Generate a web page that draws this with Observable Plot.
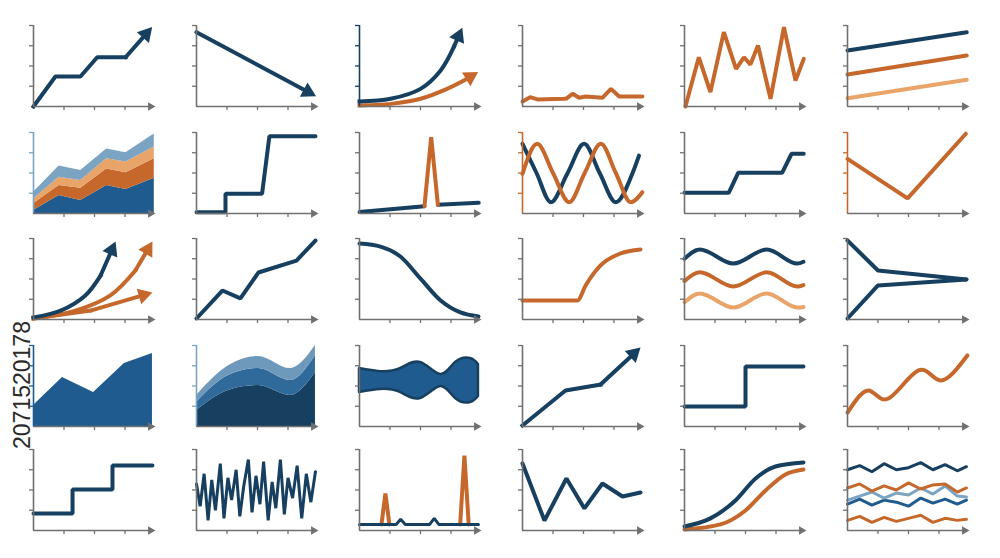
<!DOCTYPE html>
<html><head><meta charset="utf-8">
<script src="https://cdn.jsdelivr.net/npm/d3@7"></script>
<script src="https://cdn.jsdelivr.net/npm/@observablehq/plot@0.6"></script>
<style>
body{margin:0;background:#fff;}
#wrap{position:relative;width:1000px;height:558px;overflow:hidden;background:#fff;font-family:"Liberation Sans",Arial,sans-serif;}
.panel{position:absolute;}
#stockid{position:absolute;left:22px;top:385px;transform:translate(-50%,-50%) rotate(-90deg);font-size:23px;color:#2b2b2b;white-space:nowrap;}
</style></head><body><div id="wrap"><div id="stockid">2071520178</div></div>
<script>
// ---------- colours ----------
const NAVY="#173f5f", ORANGE="#c6682b", LORANGE="#e9a46a", STEEL="#7ba3c2", MBLUE="#1f5b8e", GREY="#707070";
// ---------- axis ticks (unlabelled) ----------
const xTicks=[1,2,3];
const yTicks=[1,2,3,4];
// ---------- data: row 1 ----------
const r1c1X=[0,0.72,1.54,2.09,3.02,3.89], r1c1Y=[0,1.48,1.48,2.43,2.43,3.92];
const r1c2X=[0,3.92], r1c2Y=[3.67,0.51];
const r1c3aX=[0,1.02,2.0,2.66,3.09,3.37], r1c3aY=[0.25,0.38,0.87,1.78,2.93,3.89];
const r1c3bX=[0,1.02,2.0,2.87,3.53,3.89], r1c3bY=[0.05,0.13,0.38,0.87,1.37,1.7];
const r1c4X=[0,0.25,0.49,1.36,1.45,1.64,1.86,2.08,2.62,2.9,3.17,3.93], r1c4Y=[0.25,0.46,0.35,0.38,0.4,0.63,0.43,0.49,0.43,0.87,0.49,0.49];
const r1c5X=[0.03,0.47,0.85,1.29,1.69,1.95,2.16,2.41,2.82,3.26,3.64,3.91], r1c5Y=[0,2.43,0.71,3.67,1.86,2.43,2.07,3.01,0.38,3.92,1.28,2.35];
const r1c6X=[0,3.91], r1c6A=[2.77,3.67], r1c6B=[1.58,2.52], r1c6C=[0.41,1.32];
// ---------- data: row 2 ----------
const r2c1X=[0,0.84,1.55,2.4,3.03,3.96];
const r2c1L1=[0.15,0.89,0.64,1.38,1.19,1.74];
const r2c1L2=[0.33,0.49,0.61,0.82,0.82,0.96];
const r2c1L3=[0.24,0.41,0.38,0.5,0.53,0.58];
const r2c1L4=[0.33,0.55,0.49,0.49,0.46,0.65];
const r2c2X=[0,0.95,0.95,2.15,2.39,3.9], r2c2Y=[0.06,0.06,0.97,0.97,3.82,3.82];
const r2c3aX=[0,2.13], r2c3aY=[0.07,0.36];
const r2c3bX=[2.57,3.91], r2c3bY=[0.43,0.53];
const r2c3sX=[2.13,2.35,2.57], r2c3sY=[0.36,3.77,0.43];
const r2c4aX=[0,0.46,0.93,1.48,2.02,2.53,3.06,3.61,3.82], r2c4aY=[3.44,2.0,0.56,2.0,3.44,2.0,0.56,2.0,2.86];
const r2c4bX=[0,0.48,1.0,1.53,2.04,2.57,3.06,3.55,3.93], r2c4bY=[1.96,3.44,2.0,0.56,2.0,3.44,2.0,0.56,1.05];
const r2c5X=[0,1.45,1.76,3.2,3.51,3.91], r2c5Y=[1.02,1.02,2.01,2.01,2.95,2.95];
const r2c6X=[0,1.97,3.88], r2c6Y=[2.7,0.75,3.94];
// ---------- data: row 3 ----------
const r3c1aX=[0,0.89,1.7,2.2,2.69], r3c1aY=[0.1,0.44,1.19,2.17,3.85];
const r3c1bX=[0,1.38,2.52,3.34,3.9], r3c1bY=[0.05,0.44,1.19,2.42,3.85];
const r3c1cX=[0,1.87,3.9], r3c1cY=[0.05,0.44,1.33];
const r3c2X=[0,0.85,1.44,2.03,3.28,3.9], r3c2Y=[0.05,1.43,1.04,2.32,2.91,3.9];
const r3c3X=[0,0.69,1.34,2.0,2.66,3.31,3.9], r3c3Y=[3.75,3.6,3.11,2.02,0.94,0.35,0.15];
const r3c4X=[0,1.8,2.07,2.56,3.21,3.87], r3c4Y=[0.94,0.94,1.68,2.67,3.26,3.46];
const r3c5X=[0,0.5,1.6,2.7,3.7,3.9];
const r3c5A=[3.0,3.46,2.76,3.46,2.76,2.85];
const r3c5B=[1.9,2.33,1.63,2.33,1.63,1.7];
const r3c5C=[0.85,1.29,0.59,1.29,0.59,0.62];
const r3c6aX=[0,1.0,3.9], r3c6aY=[3.9,2.42,1.98];
const r3c6bX=[0,1.0,3.9], r3c6bY=[0.05,1.68,1.98];
// ---------- data: row 4 ----------
const r4c1X=[0,0.95,1.97,2.98,3.9], r4c1Y=[1.04,2.42,1.68,3.11,3.6];
const r4c2X=[0,1.05,2.03,3.08,3.9];
const r4c2L1=[0.79,1.78,2.02,1.53,2.67];
const r4c2L2=[0.4,0.74,0.84,0.74,0.84];
const r4c2L3=[0.34,0.48,0.6,0.59,0.49];
const r4c3X=[0,0.69,1.34,2.0,2.66,3.15,3.64,3.9];
const r4c3Lo=[1.68,1.83,1.68,1.38,1.97,1.38,1.18,1.48];
const r4c3Hi=[2.86,2.71,2.86,3.16,2.57,3.16,3.36,3.06];
const r4c4X=[0,1.41,2.56,3.87], r4c4Y=[0.05,1.78,2.07,3.9];
const r4c5X=[0,2.0,2.0,3.9], r4c5Y=[0.99,0.99,2.96,2.96];
const r4c6X=[0,0.69,1.34,2.33,3.05,3.93], r4c6Y=[0.69,1.78,1.38,2.77,2.27,3.51];
// ---------- data: row 5 ----------
const r5c1X=[0,1.28,1.28,2.59,2.59,3.9], r5c1Y=[0.84,0.84,2.02,2.02,3.21,3.21];
const r5c2X=[0,0.12,0.25,0.38,0.5,0.62,0.78,0.9,1.03,1.15,1.3,1.42,1.55,1.7,1.82,1.95,2.08,2.2,2.35,2.48,2.6,2.75,2.88,3.0,3.15,3.3,3.45,3.6,3.75,3.9];
const r5c2Y=[2.3,1.2,2.8,0.5,2.5,1.0,3.3,0.6,2.6,1.5,3.0,0.7,2.2,3.5,0.9,2.7,1.3,3.4,0.5,2.4,1.1,3.5,0.8,2.6,1.6,3.2,0.6,2.8,1.4,2.9];
const r5c3X=[0,1.2,1.35,1.5,2.3,2.45,2.6,3.9], r5c3Y=[0.3,0.3,0.55,0.3,0.3,0.6,0.3,0.3];
const r5c3s1X=[0.72,0.85,0.98], r5c3s1Y=[0.3,1.83,0.3];
const r5c3s2X=[3.3,3.44,3.58], r5c3s2Y=[0.3,3.7,0.3];
const r5c4X=[0,0.72,1.44,2.03,2.62,3.28,3.87], r5c4Y=[3.31,0.49,2.57,1.09,2.32,1.68,1.88];
const r5c5aX=[0,0.85,1.67,2.33,2.98,3.9], r5c5aY=[0.2,0.6,1.48,2.57,3.16,3.36];
const r5c5bX=[0,1.18,2.0,2.66,3.31,3.9], r5c5bY=[0.05,0.3,0.99,1.98,2.77,3.01];
const r5c6X=[0,0.4,0.8,1.2,1.6,2.0,2.4,2.8,3.2,3.6,3.9];
const r5c6A=[3.0,3.2,2.9,3.3,3.0,3.1,3.35,3.0,3.25,2.95,3.15];
const r5c6B=[2.1,2.3,1.95,2.2,2.0,2.35,2.05,2.25,2.3,1.9,2.1];
const r5c6C=[1.5,1.7,1.9,1.6,1.85,1.75,2.1,1.8,2.2,1.7,1.65];
const r5c6D=[1.3,1.55,1.25,1.5,1.4,1.2,1.6,1.35,1.55,1.3,1.5];
const r5c6E=[0.5,0.7,0.4,0.65,0.45,0.6,0.75,0.4,0.6,0.5,0.55];

// ---------- layout ----------
const colX=[33,196,359,522,684,847];
const rowTop=[25,132,238,345,449];
const PW=122, PH=81, ML=14, MR=10, MT=10, MB=10;
const SW=4;
const KX=PW/4, KY=PH/4; // pixels per data unit (domain [0,4])

const pts=(xs,ys)=>xs.map((x,i)=>({x,y:ys[i]}));
function L(xs,ys,color,extra={}){
  return Plot.line(pts(xs,ys),{x:"x",y:"y",stroke:color,strokeWidth:SW,strokeLinejoin:"miter",...extra});
}
// filled triangular arrow head + shaft for the segment (x1,y1)->(x2,y2)
function head(x1,y1,x2,y2,color,sw,r){
  const th=Math.atan2((x2-x1)*KX,(y2-y1)*KY);
  const tip=2*Math.sqrt(Math.PI*r*r/(3*Math.sqrt(3)));
  return [
    Plot.arrow([{x1,y1,x2,y2}],{x1:"x1",y1:"y1",x2:"x2",y2:"y2",stroke:color,strokeWidth:sw,headLength:0,insetEnd:tip*0.9}),
    Plot.dot([{x:x2,y:y2}],{x:"x",y:"y",symbol:"triangle",r,fill:color,stroke:"none",rotate:th*180/Math.PI,dx:-tip*Math.sin(th),dy:tip*Math.cos(th)})
  ];
}
function A(xs,ys,color,extra={}){ // polyline ending with an arrow
  const n=xs.length;
  const marks=[];
  if(n>2) marks.push(Plot.line(pts(xs.slice(0,n-1),ys.slice(0,n-1)),{x:"x",y:"y",stroke:color,strokeWidth:SW,strokeLinejoin:"miter",strokeLinecap:"square",...extra}));
  marks.push(...head(xs[n-2],ys[n-2],xs[n-1],ys[n-1],color,SW,6));
  return marks;
}
function stack(xs,layers,colors,curve="linear"){
  const data=[];
  layers.forEach((vals,k)=>vals.forEach((v,i)=>data.push({x:xs[i],v,k,c:colors[k]})));
  return Plot.areaY(data,{x:"x",y:"v",z:"k",fill:"c",curve});
}
function panel(r,c,marks,axisColor=GREY){
  const chart=Plot.plot({
    width:PW+ML+MR,height:PH+MT+MB,marginLeft:ML,marginRight:MR,marginTop:MT,marginBottom:MB,
    x:{domain:[0,4]},y:{domain:[0,4]},color:{type:"identity"},
    style:{background:"transparent",overflow:"visible"},
    marks:[
      ...marks.flat(),
      Plot.axisY({ticks:yTicks,tickSize:4,tickFormat:()=>"",stroke:axisColor,strokeWidth:1.3,label:null}),
      Plot.axisX({ticks:xTicks,tickSize:4,tickFormat:()=>"",stroke:GREY,strokeWidth:1.3,label:null}),
      Plot.ruleX([0],{stroke:axisColor,strokeWidth:1.6}),
      ...head(0,0,4,0,GREY,1.3,3.2)
    ]
  });
  chart.classList.add("panel");
  chart.style.left=(colX[c]-ML)+"px";
  chart.style.top=(rowTop[r]-MT)+"px";
  document.getElementById("wrap").appendChild(chart);
}

// row 1
panel(0,0,[A(r1c1X,r1c1Y,NAVY)]);
panel(0,1,[A(r1c2X,r1c2Y,NAVY)]);
panel(0,2,[A(r1c3bX,r1c3bY,ORANGE,{curve:"catmull-rom"}),A(r1c3aX,r1c3aY,NAVY,{curve:"catmull-rom"})],NAVY);
panel(0,3,[L(r1c4X,r1c4Y,ORANGE)]);
panel(0,4,[L(r1c5X,r1c5Y,ORANGE)]);
panel(0,5,[L(r1c6X,r1c6C,LORANGE),L(r1c6X,r1c6B,ORANGE),L(r1c6X,r1c6A,NAVY)]);
// row 2
panel(1,0,[stack(r2c1X,[r2c1L1,r2c1L2,r2c1L3,r2c1L4],[MBLUE,ORANGE,LORANGE,STEEL])],STEEL);
panel(1,1,[L(r2c2X,r2c2Y,NAVY)]);
panel(1,2,[L(r2c3aX,r2c3aY,NAVY),L(r2c3bX,r2c3bY,NAVY),L(r2c3sX,r2c3sY,ORANGE)]);
panel(1,3,[L(r2c4aX,r2c4aY,NAVY,{curve:"monotone-x"}),L(r2c4bX,r2c4bY,ORANGE,{curve:"monotone-x"})],ORANGE);
panel(1,4,[L(r2c5X,r2c5Y,NAVY)]);
panel(1,5,[L(r2c6X,r2c6Y,ORANGE)],ORANGE);
// row 3
panel(2,0,[A(r3c1cX,r3c1cY,ORANGE,{curve:"catmull-rom"}),A(r3c1bX,r3c1bY,ORANGE,{curve:"catmull-rom"}),A(r3c1aX,r3c1aY,NAVY,{curve:"catmull-rom"})]);
panel(2,1,[L(r3c2X,r3c2Y,NAVY)]);
panel(2,2,[L(r3c3X,r3c3Y,NAVY,{curve:"monotone-x"})]);
panel(2,3,[L(r3c4X,r3c4Y,ORANGE,{curve:"monotone-x"})]);
panel(2,4,[L(r3c5X,r3c5C,LORANGE,{curve:"monotone-x"}),L(r3c5X,r3c5B,ORANGE,{curve:"monotone-x"}),L(r3c5X,r3c5A,NAVY,{curve:"monotone-x"})]);
panel(2,5,[L(r3c6aX,r3c6aY,NAVY),L(r3c6bX,r3c6bY,NAVY)]);
// row 4
panel(3,0,[Plot.areaY(pts(r4c1X,r4c1Y),{x:"x",y:"y",fill:MBLUE})],MBLUE);
panel(3,1,[stack(r4c2X,[r4c2L1,r4c2L2,r4c2L3],[NAVY,"#2f6a9b","#6f99bb"],"monotone-x")],STEEL);
panel(3,2,[Plot.areaY(r4c3X.map((x,i)=>({x,lo:r4c3Lo[i],hi:r4c3Hi[i]})),{x:"x",y1:"lo",y2:"hi",fill:MBLUE,stroke:NAVY,strokeWidth:2.5,curve:"natural"})]);
panel(3,3,[A(r4c4X,r4c4Y,NAVY)]);
panel(3,4,[L(r4c5X,r4c5Y,NAVY)]);
panel(3,5,[L(r4c6X,r4c6Y,ORANGE,{curve:"natural"})]);
// row 5
panel(4,0,[L(r5c1X,r5c1Y,NAVY)]);
panel(4,1,[L(r5c2X,r5c2Y,NAVY,{strokeWidth:3})]);
panel(4,2,[L(r5c3s1X,r5c3s1Y,ORANGE),L(r5c3s2X,r5c3s2Y,ORANGE),L(r5c3X,r5c3Y,NAVY,{strokeWidth:3})]);
panel(4,3,[L(r5c4X,r5c4Y,NAVY)]);
panel(4,4,[L(r5c5bX,r5c5bY,ORANGE,{curve:"monotone-x"}),L(r5c5aX,r5c5aY,NAVY,{curve:"monotone-x"})]);
panel(4,5,[L(r5c6X,r5c6E,ORANGE,{strokeWidth:3}),L(r5c6X,r5c6D,MBLUE,{strokeWidth:3}),L(r5c6X,r5c6C,STEEL,{strokeWidth:3}),L(r5c6X,r5c6B,ORANGE,{strokeWidth:3}),L(r5c6X,r5c6A,NAVY,{strokeWidth:3})]);
</script></body></html>
